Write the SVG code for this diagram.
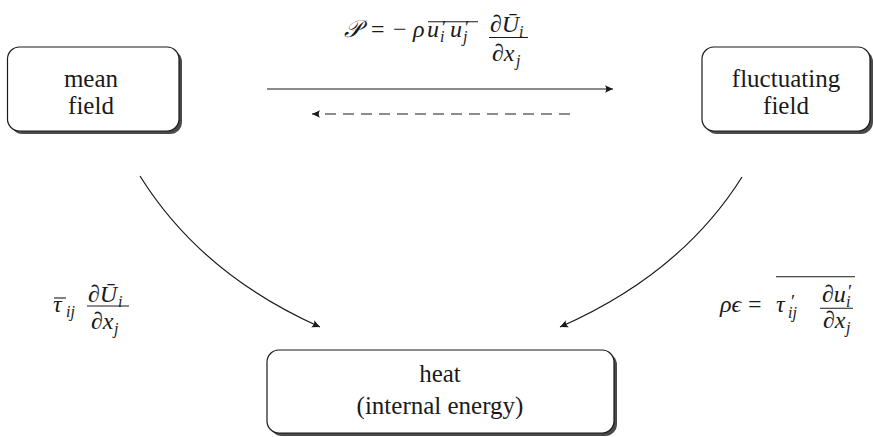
<svg xmlns="http://www.w3.org/2000/svg" width="873" height="437" viewBox="0 0 873 437">
<style>
text{font-family:"Liberation Serif","DejaVu Serif","Noto Serif","Open Sans",serif;fill:#1a1a1a}
.lbl{font-size:25px;text-anchor:middle}
.mi{font-size:24px;font-style:italic}
.n{font-style:normal}
.sub{font-size:16px}
.sup{font-size:19px;font-style:normal}
.box{fill:#fff;stroke:#1a1a1a;stroke-width:1.2}
.shadow{fill:#4a4a4a}
.rule{stroke:#1a1a1a;stroke-width:1.1;fill:none}
.conn{stroke:#1a1a1a;stroke-width:1.2;fill:none}
</style>
<defs>
<marker id="ah" viewBox="-10 -6 12 12" refX="0" refY="0" markerWidth="12" markerHeight="12" markerUnits="userSpaceOnUse" orient="auto-start-reverse">
<path d="M0,0 L-8,-3.8 Q-5.5,0 -8,3.8 Z" fill="#1a1a1a"/>
</marker>
</defs>

<g id="mean-field">
<rect class="shadow" x="10.5" y="50" width="171.5" height="84" rx="12"/>
<rect class="box" x="7.5" y="47" width="171.5" height="84" rx="12"/>
<text class="lbl" x="91" y="86.5">mean</text>
<text class="lbl" x="91" y="114">field</text>
</g>

<g id="fluctuating-field">
<rect class="shadow" x="705" y="50" width="168" height="84" rx="12"/>
<rect class="box" x="702" y="47" width="168" height="84" rx="12"/>
<text class="lbl" x="786" y="86.5">fluctuating</text>
<text class="lbl" x="786" y="114">field</text>
</g>

<g id="heat">
<rect class="shadow" x="270" y="353" width="347" height="83" rx="12"/>
<rect class="box" x="267" y="350" width="347" height="83" rx="12"/>
<text class="lbl" x="440" y="382">heat</text>
<text class="lbl" x="440" y="414">(internal energy)</text>
</g>

<g id="connectors">
<line class="conn" x1="267" y1="89" x2="613" y2="89" marker-end="url(#ah)"/>
<line class="conn" x1="570" y1="114" x2="312" y2="114" stroke-dasharray="11 7" marker-end="url(#ah)"/>
<path class="conn" d="M140,176 Q201,274 320,327" marker-end="url(#ah)"/>
<path class="conn" d="M742,177 Q681,274 560,327" marker-end="url(#ah)"/>
</g>

<g id="label-production">
<text class="mi" y="36.5"><tspan x="344">𝒫</tspan><tspan class="n" x="371">=</tspan><tspan class="n" x="393">−</tspan><tspan x="413">ρ</tspan><tspan x="427">u</tspan><tspan class="sup" x="442" y="34">′</tspan><tspan class="sub" x="440" y="42">i</tspan><tspan x="450" y="36.5">u</tspan><tspan class="sup" x="465" y="34">′</tspan><tspan class="sub" x="463" y="42">j</tspan></text>
<line class="rule" x1="428" y1="21.7" x2="478" y2="21.7"/>
<text class="mi" y="32"><tspan x="490">∂Ū</tspan><tspan class="sub" x="519" y="37">i</tspan></text>
<line class="rule" x1="489" y1="37.5" x2="528" y2="37.5"/>
<text class="mi" y="61"><tspan x="492">∂x</tspan><tspan class="sub" x="516" y="66">j</tspan></text>
</g>

<g id="label-mean-dissipation">
<text class="mi" y="312"><tspan x="53">τ</tspan><tspan class="sub" x="66" y="317">ij</tspan></text>
<line class="rule" x1="54" y1="298" x2="66" y2="298"/>
<text class="mi" y="302"><tspan x="88">∂Ū</tspan><tspan class="sub" x="118" y="307">i</tspan></text>
<line class="rule" x1="87" y1="306" x2="129" y2="306"/>
<text class="mi" y="329"><tspan x="91">∂x</tspan><tspan class="sub" x="114" y="334">j</tspan></text>
</g>

<g id="label-dissipation">
<text class="mi" y="312"><tspan x="720">ρϵ</tspan><tspan class="n" x="748">=</tspan><tspan x="776">τ</tspan><tspan class="sup" x="791" y="308">′</tspan><tspan class="sub" x="788" y="318">ij</tspan></text>
<line class="rule" x1="776" y1="276.7" x2="855" y2="276.7"/>
<text class="mi" y="301.5"><tspan x="822">∂u</tspan><tspan class="sup" x="848" y="298">′</tspan><tspan class="sub" x="846" y="307">i</tspan></text>
<line class="rule" x1="820" y1="308.3" x2="853" y2="308.3"/>
<text class="mi" y="328"><tspan x="823">∂x</tspan><tspan class="sub" x="846" y="333">j</tspan></text>
</g>
</svg>
